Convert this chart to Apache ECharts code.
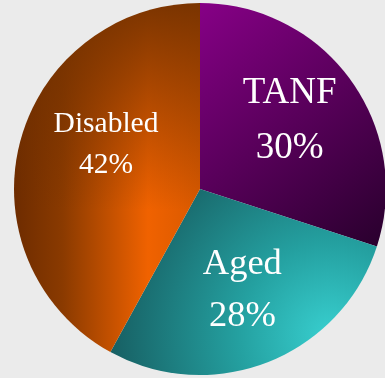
<!DOCTYPE html>
<html>
<head>
<meta charset="utf-8">
<script src="https://cdn.jsdelivr.net/npm/echarts@6/dist/echarts.min.js"></script>
<style>
  html, body { margin: 0; padding: 0; background: #ebebeb; }
  #chart { width: 385px; height: 378px; }
</style>
</head>
<body>
<div id="chart"></div>
<script>
// Caseload shares by category
const categories = ['TANF', 'Aged', 'Disabled'];
const shares = [30, 28, 42];

const W = 385, H = 378;

// Painted fills for each slice (canvas textures in page coordinates)
function makeTexture(paint) {
  const c = document.createElement('canvas');
  c.width = W; c.height = H;
  paint(c.getContext('2d'));
  return { image: c, repeat: 'no-repeat' };
}

const fills = {
  TANF: makeTexture(function (ctx) {
    const g = ctx.createLinearGradient(205, 0, 385, 240);
    g.addColorStop(0, '#860086');
    g.addColorStop(1, '#2a002e');
    ctx.fillStyle = g;
    ctx.fillRect(0, 0, W, H);
  }),
  Aged: makeTexture(function (ctx) {
    const g = ctx.createRadialGradient(330, 335, 0, 330, 335, 230);
    g.addColorStop(0, '#38cfcf');
    g.addColorStop(0.4, '#24a0a0');
    g.addColorStop(1, '#165a5e');
    ctx.fillStyle = g;
    ctx.fillRect(0, 0, W, H);
  }),
  Disabled: makeTexture(function (ctx) {
    const g = ctx.createLinearGradient(15, 0, 205, 0);
    g.addColorStop(0, '#6e2c00');
    g.addColorStop(0.25, '#8a3a00');
    g.addColorStop(0.7, '#f06200');
    g.addColorStop(1, '#d65800');
    ctx.fillStyle = g;
    ctx.fillRect(0, 0, W, H);
    const v = ctx.createLinearGradient(0, 0, 0, 210);
    v.addColorStop(0, 'rgba(112,48,0,0.92)');
    v.addColorStop(1, 'rgba(112,48,0,0)');
    ctx.fillStyle = v;
    ctx.fillRect(0, 0, W, H);
  })
};

// Label sizing per slice
const labelStyles = {
  TANF: { fontSize: 37, lineHeight: 55, offset: [12, -12] },
  Aged: { fontSize: 36.5, lineHeight: 52, offset: [7, 12] },
  Disabled: { fontSize: 29.5, lineHeight: 41, offset: [-1, -20] }
};

const chart = echarts.init(document.getElementById('chart'), null, { renderer: 'canvas' });
chart.setOption({
  backgroundColor: '#ebebeb',
  animation: false,
  series: [{
    type: 'pie',
    center: [200, 189],
    radius: 186,
    startAngle: 90,
    clockwise: true,
    avoidLabelOverlap: false,
    label: {
      show: true,
      position: 'inner',
      formatter: '{b}\n{c}%',
      color: '#ffffff',
      fontFamily: '"Liberation Serif", "DejaVu Serif", serif',
      align: 'center'
    },
    labelLine: { show: false },
    emphasis: { disabled: true },
    data: categories.map(function (name, i) {
      const ls = labelStyles[name];
      return {
        name: name,
        value: shares[i],
        itemStyle: { color: fills[name] },
        label: { fontSize: ls.fontSize, lineHeight: ls.lineHeight, offset: ls.offset }
      };
    })
  }]
});
</script>
</body>
</html>
